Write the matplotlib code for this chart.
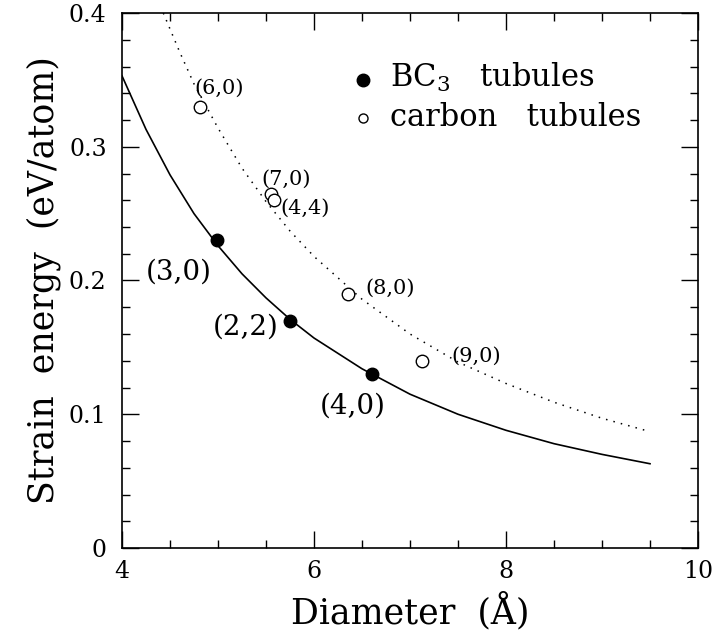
import matplotlib
matplotlib.use("Agg")
import matplotlib.pyplot as plt
from matplotlib.ticker import MultipleLocator

plt.rcParams['font.family'] = ['DejaVu Serif']
plt.rcParams['mathtext.fontset'] = 'dejavuserif'

# BC3 tubules (filled)
bc3_d = [4.99, 5.75, 6.60]
bc3_e = [0.230, 0.170, 0.130]
bc3_labels = ["(3,0)", "(2,2)", "(4,0)"]
bc3_lab_x = [4.59, 5.29, 6.40]
bc3_lab_y = [0.206, 0.165, 0.106]

# carbon tubules (open)
c_d = [4.81, 5.55, 5.58, 6.35, 7.13]
c_e = [0.330, 0.265, 0.260, 0.190, 0.140]
c_labels = ["(6,0)", "(7,0)", "(4,4)", "(8,0)", "(9,0)"]
c_lab_x = [5.01, 5.71, 5.91, 6.79, 7.69]
c_lab_y = [0.344, 0.276, 0.254, 0.194, 0.1436]

# fitted curves
fit_bc3_x = [4.0, 4.25, 4.5, 4.75, 5.0, 5.25, 5.5, 5.75, 6.0, 6.5, 7.0, 7.5, 8.0, 8.5, 9.0, 9.5]
fit_bc3_y = [0.353, 0.313, 0.279, 0.250, 0.226, 0.205, 0.187, 0.171, 0.157, 0.134, 0.115,
             0.100, 0.088, 0.078, 0.070, 0.063]
fit_c_x = [4.43, 4.6, 4.75, 5.0, 5.25, 5.5, 5.75, 6.0, 6.5, 7.0, 7.5, 8.0, 8.5, 9.0, 9.5]
fit_c_y = [0.400, 0.371, 0.347, 0.314, 0.284, 0.259, 0.237, 0.218, 0.186, 0.160, 0.139,
           0.123, 0.109, 0.097, 0.087]

fig = plt.figure(figsize=(7.16, 6.41), dpi=100)
ax = fig.add_axes([122/716, 1-548/641, (698-122)/716, (548-13)/641])

ax.plot(fit_bc3_x, fit_bc3_y, color='black', lw=1.2)
ax.plot(fit_c_x, fit_c_y, color='black', lw=1.1, linestyle=(0, (1, 4)))

ax.plot(bc3_d, bc3_e, 'o', color='black', markersize=9, zorder=3)
ax.plot(c_d, c_e, 'o', markerfacecolor='white', markeredgecolor='black',
        markeredgewidth=1.0, markersize=9, zorder=3)

for s, x, y in zip(bc3_labels, bc3_lab_x, bc3_lab_y):
    ax.text(x, y, s, fontsize=20, ha='center', va='center')
for s, x, y in zip(c_labels, c_lab_x, c_lab_y):
    ax.text(x, y, s, fontsize=15, ha='center', va='center')

# legend drawn manually
ax.plot([6.51], [0.350], 'o', color='black', markersize=9)
ax.plot([6.51], [0.3215], 'o', markerfacecolor='white', markeredgecolor='black',
        markeredgewidth=1.0, markersize=6.5)
ax.text(6.79, 0.3447, r"BC$_3$   tubules", fontsize=22, ha='left', va='baseline')
ax.text(6.79, 0.3155, "carbon   tubules", fontsize=22, ha='left', va='baseline')

ax.set_xlim(4, 10)
ax.set_ylim(0, 0.4)
ax.xaxis.set_major_locator(MultipleLocator(2))
ax.xaxis.set_minor_locator(MultipleLocator(0.5))
ax.yaxis.set_major_locator(MultipleLocator(0.1))
ax.yaxis.set_minor_locator(MultipleLocator(0.02))
ax.xaxis.set_major_formatter(plt.FuncFormatter(lambda v, p: f"{v:g}"))
ax.yaxis.set_major_formatter(plt.FuncFormatter(lambda v, p: "0" if abs(v) < 1e-9 else f"{v:.1f}"))

ax.tick_params(which='both', direction='in', top=True, right=True, width=1.0)
ax.tick_params(which='major', length=12)
ax.tick_params(which='minor', length=6)
ax.tick_params(axis='x', which='major', labelsize=17, pad=9)
ax.tick_params(axis='y', which='major', labelsize=17, pad=11)
for sp in ax.spines.values():
    sp.set_linewidth(1.2)

ax.set_xlabel("Diameter  (Å)", fontsize=25, labelpad=6)
ax.set_ylabel("Strain  energy  (eV/atom)", fontsize=25, labelpad=6)

fig.savefig("out.png", dpi=100)
